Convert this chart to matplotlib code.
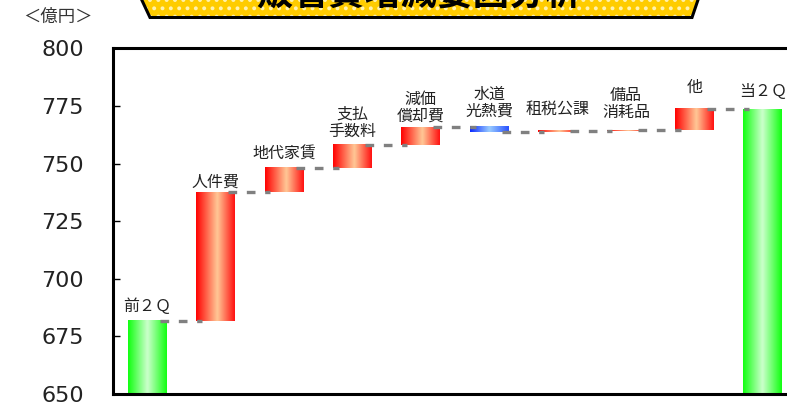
import matplotlib
matplotlib.use("Agg")
import matplotlib.pyplot as plt
import numpy as np
from matplotlib.colors import LinearSegmentedColormap
from matplotlib.patches import Polygon

plt.rcParams["font.family"] = ["Noto Sans CJK JP", "DejaVu Sans"]
plt.rcParams["hatch.linewidth"] = 1.6

# 億円
labels = ["前２Ｑ", "人件費", "地代家賃", "支払\n手数料", "減価\n償却費",
          "水道\n光熱費", "租税公課", "備品\n消耗品", "他", "当２Ｑ"]
start_value = 681.8
changes = [55.7, 10.6, 10.1, 7.7, -2.4, 0.5, 0.4, 9.2]
yticks = [650, 675, 700, 725, 750, 775, 800]
title = "販管費増減要因分析"

# gap between bar top and its label, in points
label_pad = [4.0, 1.5, 3.5, 3.5, 1.5, 5.0, 10.0, 6.5, 10.0, 6.5]

W, H = 787, 408
fig = plt.figure(figsize=(W / 100, H / 100), dpi=100)
ax = fig.add_axes([113 / W, 1 - 394 / H, (797 - 113) / W, (394 - 48.4) / H])

y_min = yticks[0]
levels = start_value + np.cumsum(changes)
end_value = levels[-1]
running = np.concatenate([[start_value], levels])

bottoms, heights, kinds = [y_min], [start_value - y_min], ["total"]
for prev, cur in zip(running[:-1], running[1:]):
    bottoms.append(min(prev, cur))
    heights.append(abs(cur - prev))
    kinds.append("up" if cur >= prev else "down")
bottoms.append(y_min)
heights.append(end_value - y_min)
kinds.append("total")

cmaps = {
    "total": LinearSegmentedColormap.from_list(
        "g", [(0, "#10ff10"), (0.5, "#ccffcc"), (1, "#10ff10")]),
    "up": LinearSegmentedColormap.from_list(
        "r", [(0, "#ff0000"), (0.55, "#ffc896"), (1, "#ff1010")]),
    "down": LinearSegmentedColormap.from_list(
        "b", [(0, "#0a28ff"), (0.5, "#99ccff"), (1, "#2850ff")]),
}
grad = np.linspace(0, 1, 256).reshape(1, -1)

x = np.arange(len(labels))
bars = ax.bar(x, heights, bottom=bottoms, width=0.57, color="none",
              edgecolor="none")
for rect, kind in zip(bars, kinds):
    x0, w = rect.get_x(), rect.get_width()
    y0, h = rect.get_y(), rect.get_height()
    ax.imshow(grad, cmap=cmaps[kind], extent=[x0, x0 + w, y0, y0 + h],
              aspect="auto", interpolation="bicubic", zorder=2)

# dashed connectors between consecutive bars
for i, lvl in enumerate(running):
    ax.plot([i + 0.18, i + 0.8], [lvl, lvl], color="#808080", lw=2.4,
            ls=(0, (2.6, 2.9)), dash_capstyle="butt", zorder=3)

for i, (lab, b, h) in enumerate(zip(labels, bottoms, heights)):
    ax.annotate(lab, (i, b + h), xytext=(0, label_pad[i]),
                textcoords="offset points", ha="center", va="bottom",
                fontsize=11.5, linespacing=1.0, color="#222222")

ax.set_xlim(-0.5, len(labels) - 0.5)
ax.set_ylim(yticks[0], yticks[-1])
ax.set_yticks(yticks)
ax.set_xticks([])
ax.tick_params(axis="y", direction="in", length=5, width=1, pad=21,
               labelsize=16)
for t in ax.get_yticklabels():
    t.set_fontfamily("DejaVu Sans")
    t.set_color("#222222")
for side in ["left", "top", "bottom"]:
    ax.spines[side].set_linewidth(2.2)
    ax.spines[side].set_color("black")
ax.spines["right"].set_visible(False)

fig.text(58 / W, 1 - 17 / H, "＜億円＞", ha="center", va="center",
         fontsize=12.5, color="#333333")

# title banner, running off the top edge
pts = [(139, -6), (150, 17.5), (692, 17.5), (700, -6)]
banner = [(px / W, 1 - py / H) for px, py in pts]
fig.patches.append(Polygon(banner, closed=True, transform=fig.transFigure,
                           facecolor="#ffcc00", edgecolor="#fff2b0",
                           hatch="..", lw=0, zorder=1))
fig.patches.append(Polygon(banner, closed=True, transform=fig.transFigure,
                           facecolor="none", edgecolor="black", lw=2.2,
                           zorder=2))
fig.text(419 / W, 1 - 14 / H, title, ha="center", va="bottom", fontsize=26,
         fontweight="bold", color="black", zorder=3)

fig.savefig("out.png", dpi=100)
